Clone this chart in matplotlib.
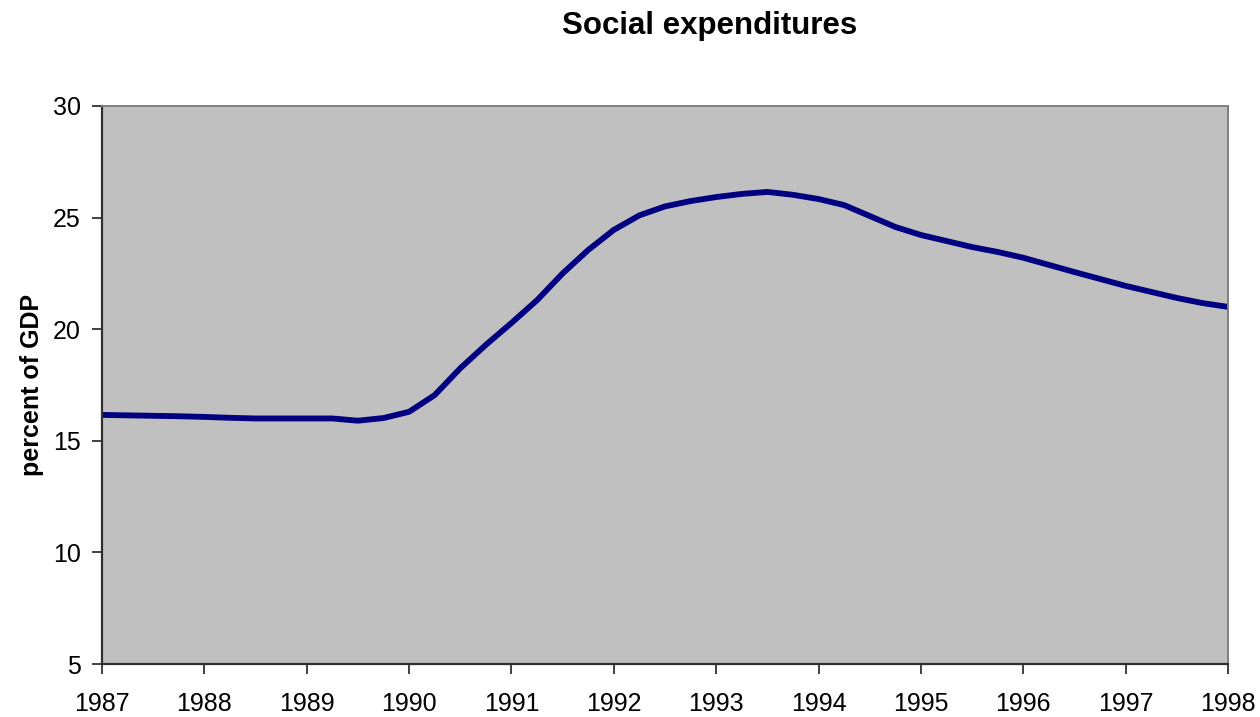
import matplotlib
matplotlib.use("Agg")
import matplotlib.pyplot as plt

# quarterly social expenditures, percent of GDP
years = [1987.0, 1987.25, 1987.5, 1987.75,
         1988.0, 1988.25, 1988.5, 1988.75,
         1989.0, 1989.25, 1989.5, 1989.75,
         1990.0, 1990.25, 1990.5, 1990.75,
         1991.0, 1991.25, 1991.5, 1991.75,
         1992.0, 1992.25, 1992.5, 1992.75,
         1993.0, 1993.25, 1993.5, 1993.75,
         1994.0, 1994.25, 1994.5, 1994.75,
         1995.0, 1995.25, 1995.5, 1995.75,
         1996.0, 1996.25, 1996.5, 1996.75,
         1997.0, 1997.25, 1997.5, 1997.75,
         1998.0]
spending = [16.16, 16.14, 16.12, 16.10,
            16.07, 16.03, 16.00, 16.00,
            16.00, 16.00, 15.90, 16.02,
            16.30, 17.05, 18.25, 19.30,
            20.28, 21.30, 22.50, 23.55,
            24.45, 25.10, 25.50, 25.74,
            25.92, 26.06, 26.15, 26.02,
            25.83, 25.56, 25.07, 24.58,
            24.22, 23.95, 23.68, 23.46,
            23.20, 22.88, 22.56, 22.25,
            21.94, 21.67, 21.40, 21.17,
            21.00]
year_ticks = list(range(1987, 1999))
pct_ticks = [5, 10, 15, 20, 25, 30]

plt.rcParams['font.family'] = ['Liberation Sans', 'DejaVu Sans']

fig = plt.figure(figsize=(12.6, 7.17), dpi=100)
ax = fig.add_axes([0.081, 0.0739, 0.8936, 0.7783])
ax.set_facecolor('#C0C0C0')

ax.plot(years, spending, color='#000080', linewidth=4.2,
        solid_capstyle='round', solid_joinstyle='round')

ax.set_xlim(1987, 1998)
ax.set_ylim(5, 30)
ax.set_xticks(year_ticks)
ax.set_yticks(pct_ticks)
ax.tick_params(axis='x', direction='out', length=7, width=1.2,
               color='#202020', labelsize=18, pad=13)
ax.tick_params(axis='y', direction='out', length=7.5, width=1.2,
               color='#202020', labelsize=18, pad=8)

for side in ['left', 'bottom']:
    ax.spines[side].set_color('#303030')
    ax.spines[side].set_linewidth(1.6)
for side in ['top', 'right']:
    ax.spines[side].set_color('#808080')
    ax.spines[side].set_linewidth(1.4)

ax.set_ylabel('percent of GDP', fontsize=18, fontweight='bold', labelpad=6)
fig.text(0.5635, 0.964, 'Social expenditures', fontsize=22.5,
         fontweight='bold', ha='center', va='center')

fig.savefig('out.png', dpi=100)
